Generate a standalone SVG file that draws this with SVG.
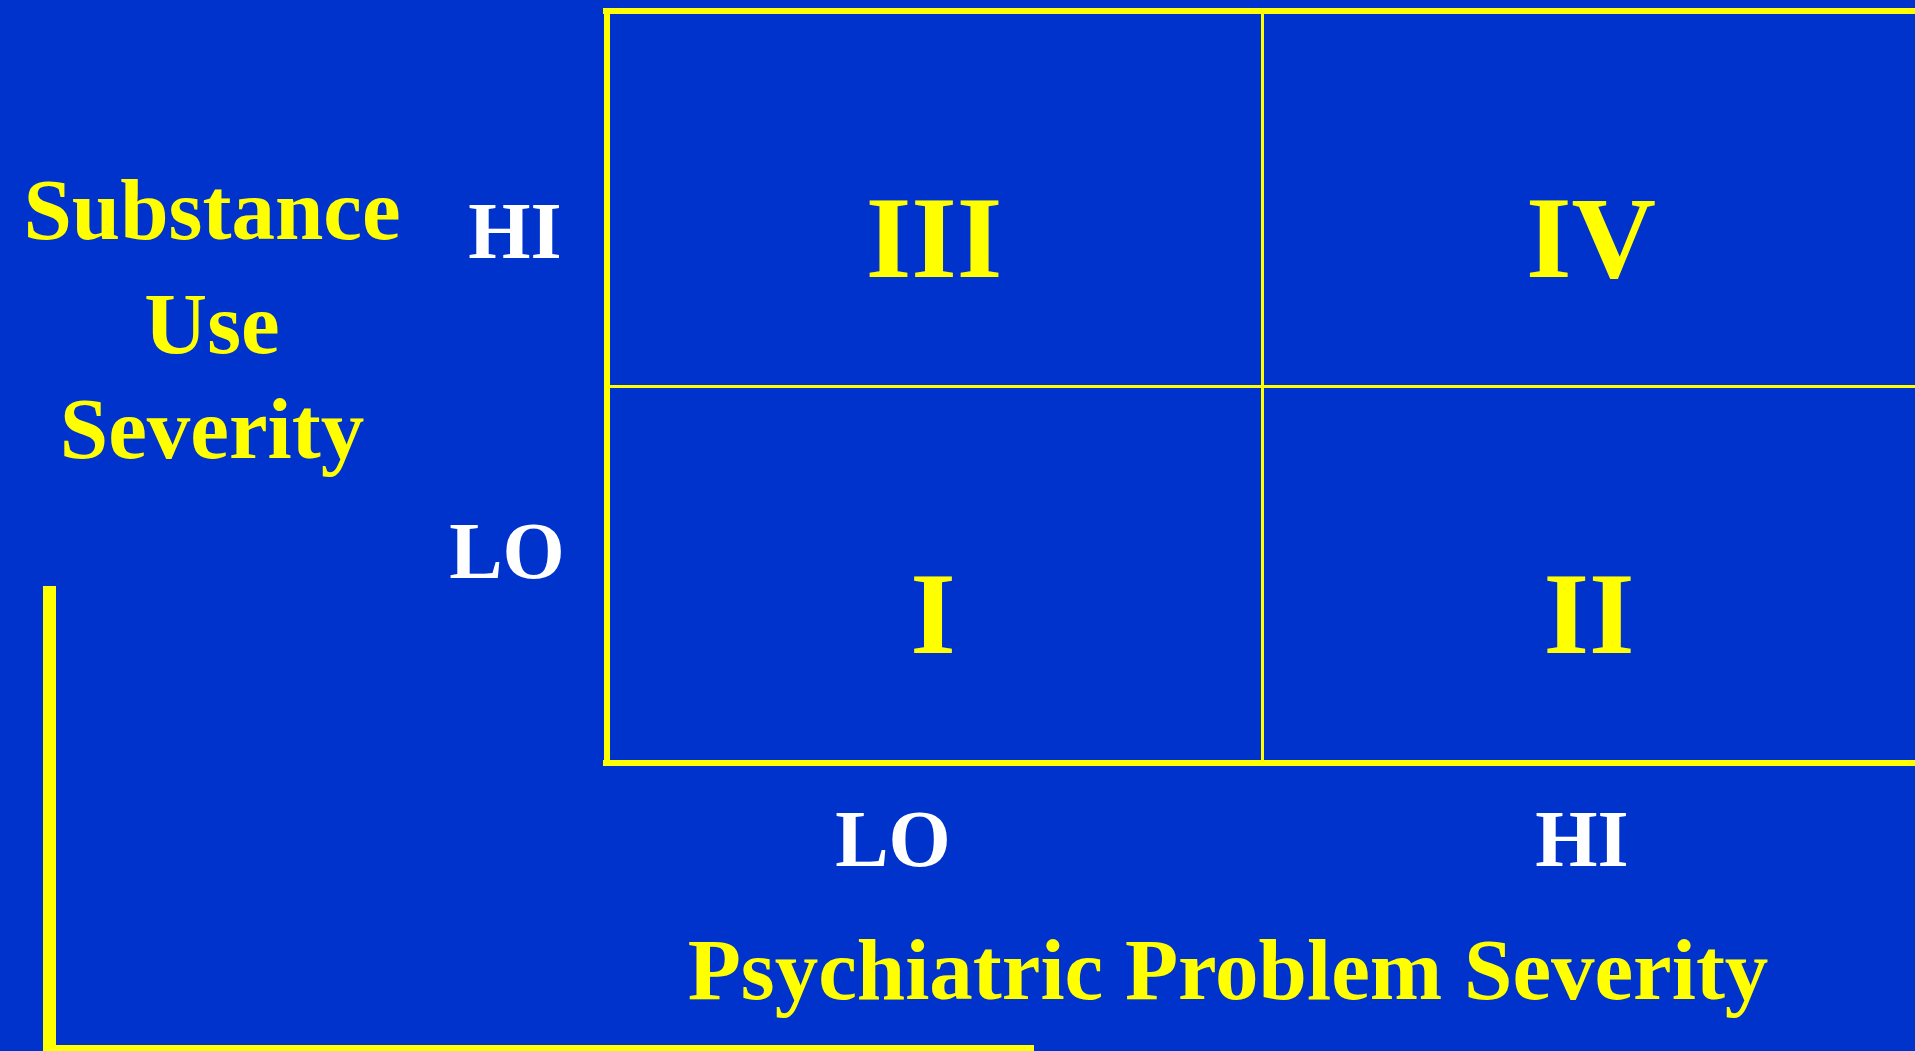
<svg xmlns="http://www.w3.org/2000/svg" width="1915" height="1051" viewBox="0 0 1915 1051">
<style>
.y{fill:#FFFF00;font-family:"Liberation Serif","Times New Roman",serif;font-weight:bold;text-anchor:middle}
.w{fill:#FFFFFF;font-family:"Liberation Serif","Times New Roman",serif;font-weight:bold;text-anchor:middle}
.ln{fill:#FFFF00}
</style>
<rect x="0" y="0" width="1915" height="1051" fill="#0033CC"/>
<g id="connectors">
<rect class="ln" x="603" y="8" width="1312" height="6"/>
<rect class="ln" x="604" y="8" width="6" height="758"/>
<rect class="ln" x="603" y="760" width="1312" height="6"/>
<rect class="ln" x="1261" y="14" width="3" height="746"/>
<rect class="ln" x="610" y="385" width="1305" height="3"/>
<rect class="ln" x="43" y="586" width="13" height="465"/>
<rect class="ln" x="43" y="1045" width="991" height="13"/>
</g>
<g id="y-axis-title">
<text class="y" x="212" y="239" font-size="87">Substance</text>
<text class="y" x="212" y="353" font-size="87">Use</text>
<text class="y" x="212" y="458" font-size="87">Severity</text>
</g>
<g id="y-hi"><text class="w" x="515" y="258" font-size="80">HI</text></g>
<g id="y-lo"><text class="w" x="507" y="578" font-size="80">LO</text></g>
<g id="q3"><text class="y" x="934" y="277" font-size="117">III</text></g>
<g id="q4"><text class="y" x="1591" y="277" font-size="117">IV</text></g>
<g id="q1"><text class="y" x="933" y="653" font-size="117">I</text></g>
<g id="q2"><text class="y" x="1589" y="653" font-size="117">II</text></g>
<g id="x-lo"><text class="w" x="893" y="866" font-size="80">LO</text></g>
<g id="x-hi"><text class="w" x="1582" y="866" font-size="80">HI</text></g>
<g id="x-axis-title"><text class="y" x="1228" y="999" font-size="87">Psychiatric Problem Severity</text></g>
</svg>
